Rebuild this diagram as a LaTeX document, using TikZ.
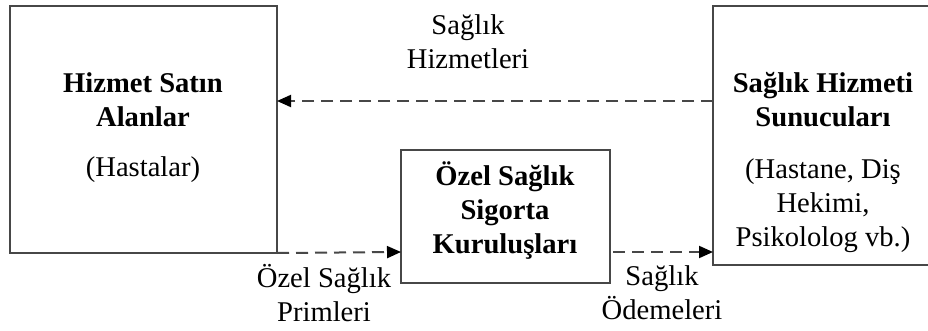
\documentclass[tikz,border=0pt]{standalone}
\usepackage{fontspec}
\setmainfont{Liberation Serif}
\usetikzlibrary{arrows.meta}
\begin{document}
\begin{tikzpicture}[x=1pt,y=-1pt,
  every node/.style={inner sep=0pt, outer sep=0pt},
  frame/.style={draw=black!72, line width=2pt},
  flow/.style={draw=black!72, line width=2pt, dash pattern=on 12pt off 7pt,
    -{Triangle[length=14pt,width=12pt,color=black]}},
  boxtext/.style={font=\fontsize{28.6}{34}\selectfont\bfseries, align=center},
  plaintext/.style={font=\fontsize{28.6}{34}\selectfont, align=center}]
  \useasboundingbox (0,0) rectangle (928,331);
  \fill[white] (0,0) rectangle (928,331);
  % boxes
  \node[frame, minimum width=267pt, minimum height=247pt, anchor=north west] (buyers) at (10,6) {};
  \node[frame, minimum width=209pt, minimum height=133pt, anchor=north west] (insurer) at (401,150) {};
  \node[frame, minimum width=230pt, minimum height=259pt, anchor=north west] (providers) at (713,6) {};
  % box texts
  \node[boxtext] (buyersT) at (143,100) {Hizmet Satın\\Alanlar};
  \node[plaintext] (buyersS) at (143,170) {(Hastalar)};
  \node[boxtext] (insurerT) at (505,211) {Özel Sağlık\\Sigorta\\Kuruluşları};
  \node[boxtext] (providersT) at (823,100) {Sağlık Hizmeti\\Sunucuları};
  \node[plaintext] (providersS) at (823,206) {(Hastane, Diş\\Hekimi,\\Psikololog vb.)};
  % connectors
  \coordinate (topR) at (providers.west |- 0,101);
  \coordinate (topL) at (buyers.east |- 0,101);
  \draw[flow] (topR) -- (topL);
  \coordinate (lowA) at (buyers.south east);
  \coordinate (lowB) at (insurer.west |- 0,252);
  \draw[flow] (lowA) -- (lowB);
  \coordinate (lowC) at (insurer.east |- 0,252);
  \coordinate (lowD) at (providers.west |- 0,252);
  \draw[flow] ([xshift=3pt]lowC) -- (lowD);
  % flow labels
  \node[plaintext] (lblServices) at (468,42) {Sağlık\\Hizmetleri};
  \node[plaintext] (lblPremiums) at (324,293) {Özel Sağlık\\Primleri};
  \node[plaintext] (lblPayments) at (662,293) {Sağlık\\Ödemeleri};
\end{tikzpicture}
\end{document}
